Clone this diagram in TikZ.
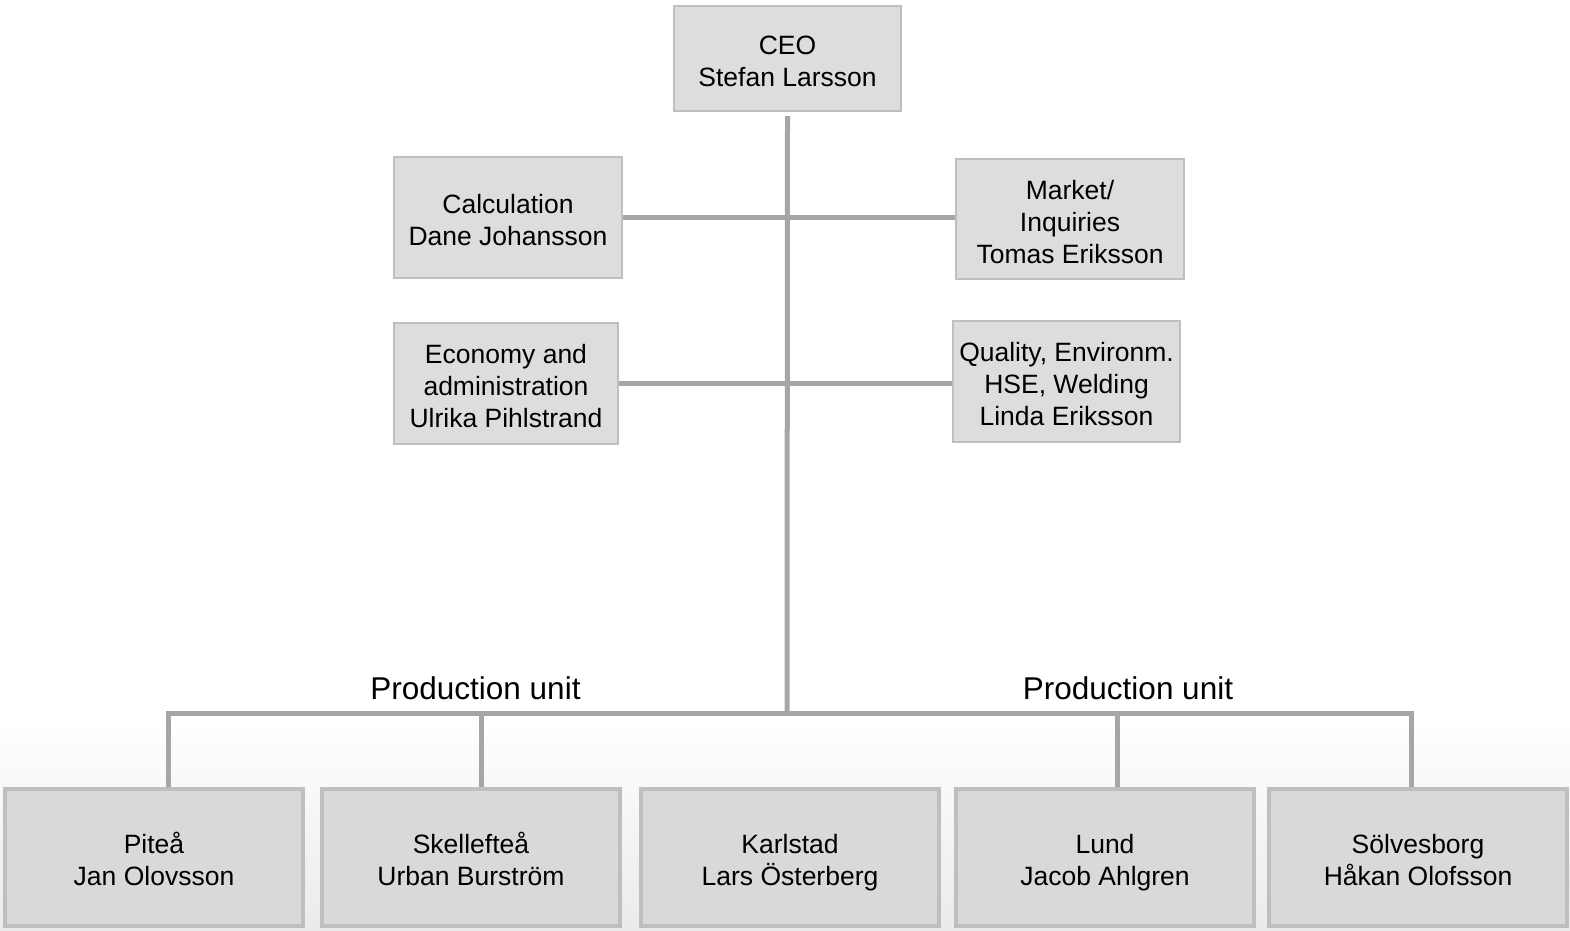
\documentclass[tikz,border=0pt]{standalone}
\usepackage{fontspec}
\setmainfont{Liberation Sans}
\usepackage{xcolor}
\usetikzlibrary{positioning, calc, backgrounds}
\definecolor{boxgray}{RGB}{221, 221, 221}
\definecolor{unitgray}{RGB}{217, 217, 217}
\definecolor{edgegray}{RGB}{191, 191, 191}
\definecolor{linegray}{RGB}{166, 166, 166}

\begin{document}
\begin{tikzpicture}[
	x=1pt, y=-1pt,
	% boxes for staff functions
	staff/.style={
			rectangle,
			minimum width=227pt,
			minimum height=121pt,
			fill=boxgray,
			draw=edgegray,
			line width=2pt,
			align=center,
			inner sep=2pt,
			font=\fontsize{26.5}{32}\selectfont,
			execute at begin node=\strut,
			execute at end node=\strut,
			text height=98.4pt
		},
	twoline/.style={text height=66.4pt},
	% boxes for production units
	unit/.style={
			rectangle,
			minimum width=298pt,
			minimum height=137pt,
			fill=unitgray,
			draw=edgegray,
			line width=4pt,
			align=center,
			font=\fontsize{26.5}{32}\selectfont,
			execute at begin node=\strut,
			execute at end node=\strut,
			text height=66.4pt
		},
	link/.style={
			line width=5pt,
			color=linegray
		},
	unitlabel/.style={
			font=\fontsize{31.5}{36}\selectfont,
			text=black
		}
	]

	% canvas
	\useasboundingbox (0, 0) rectangle (1570, 930);
	\fill[white] (0, 0) rectangle (1570, 930);
	\shade[top color=white, bottom color=black!8] (0, 720) rectangle (1570, 930);

	% Top of the organisation
	\node[staff, twoline, minimum height=105pt] (ceo) at (787.5, 58.5) {CEO\\Stefan Larsson};

	% Staff functions
	\node[staff, twoline, minimum width=228pt] (calc) at (508, 217.5) {Calculation\\Dane Johansson};
	\node[staff, minimum width=228pt, minimum height=120pt] (market) at (1070, 219) {Market/\\Inquiries\\Tomas Eriksson};
	\node[staff, minimum width=224pt] (economy) at (506, 383.5) {Economy and\\administration\\Ulrika Pihlstrand};
	\node[staff] (quality) at (1066.5, 381.5) {Quality, Environm.\\HSE, Welding\\Linda Eriksson};

	% Production units
	\node[unit] (pitea) at (154, 857.5) {Piteå\\Jan Olovsson};
	\node[unit] (skelleftea) at (471, 857.5) {Skellefteå\\Urban Burström};
	\node[unit] (karlstad) at (790, 857.5) {Karlstad\\Lars Österberg};
	\node[unit] (lund) at (1105, 857.5) {Lund\\Jacob Ahlgren};
	\node[unit] (solvesborg) at (1418, 857.5) {Sölvesborg\\Håkan Olofsson};

	% Branch points on the production bar
	\coordinate (hub) at (787, 713);
	\coordinate (barL) at (168, 713);
	\coordinate (barS) at (481, 713);
	\coordinate (barD) at (1117, 713);
	\coordinate (barR) at (1411, 713);

	\node[unitlabel, above=10pt of $(barL)!0.5!(hub)$, xshift=-2pt] (leftlabel) {Production unit};
	\node[unitlabel, above=10pt of $(hub)!0.5!(barR)$, xshift=29pt] (rightlabel) {Production unit};

	% Main trunk and staff links
	\draw[link] ([yshift=-4pt] ceo.south) -- (hub);
	\draw[link] (calc.east) -- (calc.east -| market.west);
	\draw[link] (economy.east) -- (economy.east -| quality.west);

	% Production bar and drops
	\draw[link] ([xshift=-2.5pt] barL) -- ([xshift=2.5pt] barR);
	\draw[link] (barL) -- (barL |- pitea.north);
	\draw[link] (barS) -- (barS |- skelleftea.north);
	\draw[link] (barD) -- (barD |- lund.north);
	\draw[link] (barR) -- (barR |- solvesborg.north);

\end{tikzpicture}
\end{document}
